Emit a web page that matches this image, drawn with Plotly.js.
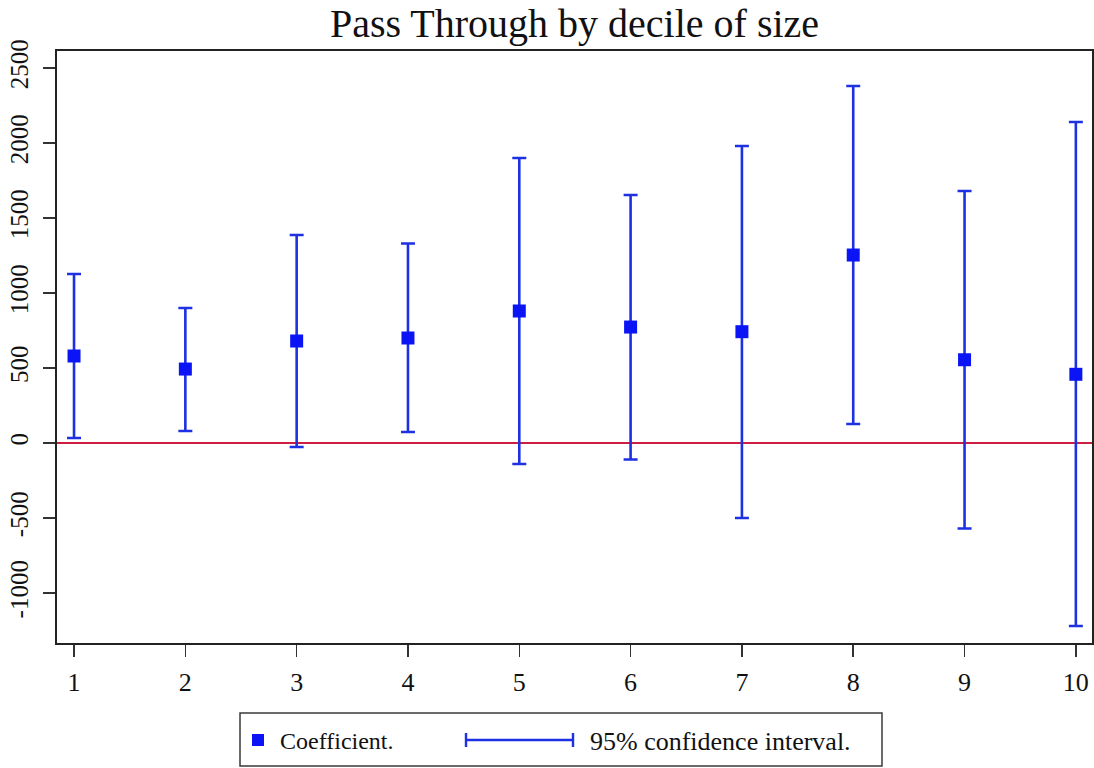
<!DOCTYPE html>
<html>
<head>
<meta charset="utf-8">
<script src="https://cdn.plot.ly/plotly-3.0.1.min.js"></script>
<style>
  html, body { margin: 0; padding: 0; background: #ffffff; }
  #chart { width: 1094px; height: 768px; }
</style>
</head>
<body>
<div id="chart"></div>
<script>
// ---- data ----
const deciles     = [1, 2, 3, 4, 5, 6, 7, 8, 9, 10];
const coefficient = [580, 493, 680, 700, 880, 773, 742, 1253, 555, 458];
const ciLower     = [33, 80, -27, 73, -140, -110, -500, 127, -570, -1220];
const ciUpper     = [1127, 900, 1387, 1330, 1900, 1653, 1980, 2380, 1680, 2140];
const yTicks      = [-1000, -500, 0, 500, 1000, 1500, 2000, 2500];
const titleText   = 'Pass Through by decile of size';
const legendLabels = ['Coefficient.', '95% confidence interval.'];

// ---- styling ----
const W = 1094, H = 768;
const M = {l: 57, r: 2, t: 51, b: 125};
const serif = '"Liberation Serif", "Times New Roman", Times, serif';
const markerColor = '#0a14f5';
const barColor = '#1d31e3';

const errPlus  = ciUpper.map((u, i) => u - coefficient[i]);
const errMinus = coefficient.map((c, i) => c - ciLower[i]);

const traces = [{
  type: 'scatter',
  mode: 'markers',
  x: deciles,
  y: coefficient,
  name: legendLabels[0],
  marker: {symbol: 'square', size: 13, color: markerColor},
  error_y: {
    type: 'data', symmetric: false,
    array: errPlus, arrayminus: errMinus,
    color: barColor, thickness: 2.6, width: 7
  },
  showlegend: false,
  hoverinfo: 'x+y'
}];

// helpers converting pixel positions (legend box) to paper coordinates
const pw = W - M.l - M.r, ph = H - M.t - M.b;
const px = v => (v - M.l) / pw;
const py = v => (H - M.b - v) / ph;

const shapes = [
  // legend box
  {type: 'rect', xref: 'paper', yref: 'paper',
   x0: px(240), x1: px(882), y0: py(713), y1: py(766),
   line: {color: '#3a3a3a', width: 1.5}, fillcolor: '#ffffff'},
  // legend square marker
  {type: 'rect', xref: 'paper', yref: 'paper',
   x0: px(252), x1: px(264), y0: py(734), y1: py(746),
   line: {width: 0}, fillcolor: markerColor},
  // legend CI symbol
  {type: 'line', xref: 'paper', yref: 'paper',
   x0: px(466), x1: px(573), y0: py(740), y1: py(740),
   line: {color: barColor, width: 2.4}},
  {type: 'line', xref: 'paper', yref: 'paper',
   x0: px(466), x1: px(466), y0: py(733), y1: py(747),
   line: {color: barColor, width: 2.4}},
  {type: 'line', xref: 'paper', yref: 'paper',
   x0: px(573), x1: px(573), y0: py(733), y1: py(747),
   line: {color: barColor, width: 2.4}}
];

const annotations = [
  {xref: 'paper', yref: 'paper', x: px(278), y: py(741), xanchor: 'left', yanchor: 'middle',
   text: legendLabels[0], showarrow: false, font: {family: serif, size: 24, color: '#111'}},
  {xref: 'paper', yref: 'paper', x: px(588), y: py(741), xanchor: 'left', yanchor: 'middle',
   text: legendLabels[1], showarrow: false, font: {family: serif, size: 26, color: '#111'}}
];

const layout = {
  width: W, height: H,
  margin: M,
  paper_bgcolor: '#ffffff',
  plot_bgcolor: '#ffffff',
  title: {
    text: titleText,
    font: {family: serif, size: 40, color: '#111'},
    xref: 'paper', x: 0.5, xanchor: 'center',
    yref: 'container', y: 1 - 23 / H, yanchor: 'middle'
  },
  xaxis: {
    range: [0.847, 10.145],
    tickmode: 'array', tickvals: deciles, ticktext: deciles.map(String),
    ticks: 'outside', ticklen: 12, tickwidth: 1.5, tickcolor: '#333',
    ticklabelstandoff: 3,
    showline: true, linecolor: '#222', linewidth: 2, mirror: true,
    showgrid: false, zeroline: false,
    tickfont: {family: serif, size: 26, color: '#111'}
  },
  yaxis: {
    range: [-1333, 2613],
    tickmode: 'array', tickvals: yTicks, ticktext: yTicks.map(String),
    tickangle: -90,
    ticks: 'outside', ticklen: 12, tickwidth: 1.5, tickcolor: '#333',
    ticklabelstandoff: 5,
    showline: true, linecolor: '#222', linewidth: 2, mirror: true,
    showgrid: false,
    zeroline: true, zerolinecolor: '#cc1f3f', zerolinewidth: 2,
    tickfont: {family: serif, size: 25, color: '#111'}
  },
  shapes: shapes,
  annotations: annotations,
  showlegend: false
};

Plotly.newPlot('chart', traces, layout, {displayModeBar: false, staticPlot: true});
</script>
</body>
</html>
